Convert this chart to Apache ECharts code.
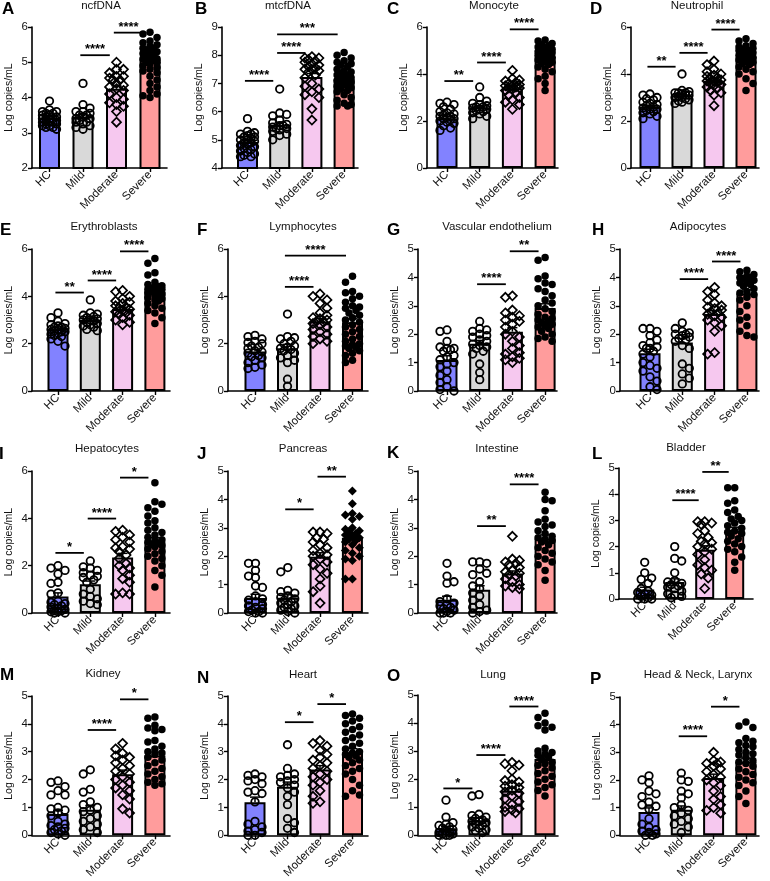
<!DOCTYPE html>
<html><head><meta charset="utf-8">
<script src="https://cdn.jsdelivr.net/npm/echarts@6/dist/echarts.min.js"></script>
<style>html,body{margin:0;padding:0;background:#fff}#c{width:770px;height:881px}</style>
</head><body><div id="c"></div>
<script>
// ---------------- DATA ----------------
const categories = ['HC', 'Mild', 'Moderate', 'Severe'];
const panelLetters = ['A','B','C','D','E','F','G','H','I','J','K','L','M','N','O','P'];
const panelTitles = ['ncfDNA','mtcfDNA','Monocyte','Neutrophil','Erythroblasts','Lymphocytes','Vascular endothelium','Adipocytes','Hepatocytes','Pancreas','Intestine','Bladder','Kidney','Heart','Lung','Head & Neck, Larynx'];
const yAxisName = 'Log copies/mL';
const yMinValues = [2,4,0,0,0,0,0,0,0,0,0,0,0,0,0,0];
const yMaxValues = [6,9,6,6,6,6,5,5,6,5,5,5,5,5,5,5];
const yStepValues = [1,1,2,2,2,2,1,1,2,1,1,1,1,1,1,1];

const ncfDNA = [
  [3.9,3.65,3.6,3.6,3.55,3.55,3.5,3.5,3.45,3.45,3.4,3.4,3.4,3.35,3.35,3.3,3.3,3.3,3.25,3.25,3.2,3.2,3.15,3.15,3.1],
  [4.4,3.8,3.7,3.6,3.6,3.55,3.5,3.5,3.45,3.4,3.4,3.35,3.3,3.3,3.25,3.2,3.15,3.1],
  [5.0,4.8,4.8,4.7,4.6,4.6,4.55,4.5,4.5,4.4,4.35,4.3,4.25,4.2,4.1,4.0,3.95,3.85,3.8,3.75,3.6,3.3],
  [5.85,5.8,5.7,5.6,5.55,5.5,5.45,5.4,5.4,5.35,5.3,5.3,5.25,5.2,5.2,5.15,5.1,5.1,5.05,5.0,5.0,4.95,4.9,4.85,4.8,4.75,4.7,4.6,4.5,4.4,4.3,4.2,4.1,4.05,4.0]
];
const mtcfDNA = [
  [5.75,5.3,5.25,5.2,5.2,5.15,5.1,5.1,5.05,5.0,5.0,4.95,4.9,4.9,4.85,4.8,4.75,4.7,4.65,4.6,4.55,4.5,4.45,4.4,4.4],
  [6.8,5.95,5.9,5.85,5.7,5.6,5.55,5.5,5.5,5.45,5.4,5.4,5.35,5.3,5.2,5.15,5.0],
  [7.95,7.9,7.9,7.85,7.8,7.75,7.7,7.65,7.6,7.55,7.5,7.5,7.45,7.4,7.3,7.2,7.0,6.9,6.8,6.7,6.6,6.5,6.1,5.7],
  [8.1,8.0,7.9,7.8,7.75,7.7,7.65,7.6,7.5,7.45,7.4,7.35,7.3,7.3,7.25,7.2,7.2,7.15,7.1,7.1,7.05,7.0,7.0,6.95,6.9,6.85,6.8,6.75,6.7,6.6,6.5,6.4,6.3,6.25,6.2,6.2]
];
const monocyte = [
  [2.8,2.75,2.7,2.6,2.5,2.4,2.35,2.3,2.25,2.2,2.2,2.15,2.1,2.1,2.05,2.0,1.95,1.9,1.8,1.7,1.6],
  [3.45,3.0,2.85,2.75,2.7,2.65,2.6,2.6,2.55,2.5,2.5,2.45,2.4,2.35,2.3,2.2,2.1],
  [4.15,3.8,3.75,3.7,3.65,3.6,3.55,3.5,3.5,3.45,3.4,3.4,3.35,3.3,3.2,3.1,3.0,2.9,2.8,2.7,2.5],
  [5.45,5.4,5.3,5.25,5.2,5.15,5.1,5.05,5.0,5.0,4.95,4.9,4.9,4.85,4.8,4.8,4.75,4.7,4.7,4.65,4.6,4.55,4.5,4.45,4.4,4.3,4.2,4.1,3.9,3.8,3.6,3.3]
];
const neutrophil = [
  [3.15,3.1,3.0,2.95,2.9,2.8,2.75,2.7,2.65,2.6,2.55,2.5,2.5,2.45,2.4,2.35,2.3,2.2,2.1],
  [4.0,3.3,3.25,3.2,3.2,3.2,3.15,3.1,3.1,3.05,3.0,3.0,2.95,2.9,2.85,2.8,2.75],
  [4.55,4.4,4.2,4.1,4.0,3.95,3.9,3.85,3.8,3.75,3.7,3.7,3.65,3.6,3.55,3.5,3.45,3.4,3.3,3.2,3.1,2.65],
  [5.5,5.4,5.3,5.2,5.15,5.1,5.05,5.0,5.0,4.95,4.9,4.85,4.8,4.8,4.75,4.7,4.7,4.65,4.6,4.55,4.5,4.45,4.4,4.3,4.2,4.1,4.0,3.8,3.6,3.3]
];
const erythroblasts = [
  [3.3,3.1,2.95,2.85,2.8,2.75,2.7,2.7,2.65,2.6,2.6,2.55,2.5,2.5,2.45,2.4,2.35,2.3,2.2,2.1,1.9],
  [3.85,3.3,3.25,3.2,3.15,3.1,3.05,3.0,3.0,2.95,2.9,2.85,2.8,2.75,2.7,2.6,2.55],
  [4.25,4.2,4.0,3.9,3.8,3.75,3.7,3.6,3.55,3.5,3.45,3.4,3.35,3.3,3.25,3.2,3.1,3.0,2.9,2.8],
  [5.6,5.4,5.0,4.9,4.6,4.5,4.45,4.4,4.4,4.35,4.3,4.3,4.25,4.2,4.2,4.15,4.1,4.05,4.0,3.95,3.9,3.85,3.8,3.7,3.6,3.5,3.4,3.3,3.1,2.85]
];
const lymphocytes = [
  [2.35,2.3,2.2,2.1,2.05,2.0,1.9,1.85,1.8,1.7,1.65,1.6,1.5,1.45,1.4,1.3,1.2,1.1,1.0,0.95],
  [3.25,2.3,2.25,2.2,2.1,2.0,1.9,1.85,1.8,1.75,1.7,1.6,1.5,1.4,1.3,1.2,0.5,0.2],
  [4.1,4.0,3.85,3.7,3.5,3.3,3.2,3.1,3.05,3.0,2.95,2.9,2.85,2.8,2.7,2.6,2.5,2.4,2.3,2.2,2.1,2.0],
  [4.85,4.6,4.2,4.15,4.0,3.9,3.75,3.6,3.55,3.5,3.4,3.3,3.2,3.1,3.0,2.9,2.8,2.7,2.6,2.5,2.4,2.3,2.2,2.1,2.0,1.95,1.9,1.85,1.8,1.7,1.6,1.5,1.3,1.2]
];
const vascularEndothelium = [
  [2.15,2.1,1.75,1.55,1.5,1.5,1.45,1.4,1.25,1.2,1.1,1.0,0.95,0.85,0.7,0.55,0.4,0.3,0.15,0.05,0.0],
  [2.45,2.2,2.15,2.1,2.0,1.95,1.9,1.8,1.75,1.65,1.6,1.55,1.5,1.4,1.3,0.95,0.65,0.4],
  [3.35,3.3,2.85,2.75,2.65,2.6,2.5,2.45,2.35,2.25,2.1,2.0,1.9,1.75,1.6,1.5,1.35,1.3,1.2,1.15,1.1,1.0],
  [4.7,4.6,4.05,3.95,3.8,3.75,3.6,3.5,3.35,3.2,3.1,3.0,2.9,2.8,2.7,2.6,2.55,2.5,2.45,2.4,2.35,2.3,2.25,2.2,2.1,2.0,1.9,1.85,1.75]
];
const adipocytes = [
  [2.2,2.2,2.1,1.95,1.8,1.7,1.6,1.55,1.5,1.5,1.4,1.3,1.2,1.0,0.9,0.8,0.7,0.5,0.35,0.15,0.05],
  [2.4,2.2,2.1,2.05,2.0,2.0,1.95,1.9,1.85,1.8,1.75,1.6,1.5,0.95,0.8,0.6,0.45,0.25],
  [3.65,3.5,3.4,3.2,3.1,3.0,2.95,2.9,2.85,2.8,2.75,2.7,2.65,2.6,2.5,2.4,2.3,2.1,1.35,1.3],
  [4.25,4.2,4.1,4.05,4.0,4.0,3.95,3.9,3.85,3.8,3.75,3.7,3.6,3.5,3.45,3.4,3.3,3.2,3.0,2.8,2.6,2.5,2.3,2.1,1.95,1.9]
];
const hepatocytes = [
  [2.0,1.9,1.8,1.65,1.3,1.25,0.85,0.8,0.5,0.45,0.4,0.35,0.3,0.25,0.2,0.15,0.1,0.1,0.05,0.05,0.0,0.0],
  [2.2,1.95,1.9,1.8,1.7,1.6,1.55,1.5,1.4,1.3,1.0,0.8,0.7,0.6,0.5,0.4,0.35],
  [3.5,3.45,3.3,3.2,3.1,3.0,2.8,2.75,2.7,2.6,2.45,2.3,2.1,2.0,1.9,1.8,1.6,1.45,1.3,0.85,0.8,0.8],
  [5.5,4.7,4.6,4.45,4.3,4.1,3.9,3.8,3.6,3.5,3.4,3.3,3.2,3.1,3.05,3.0,2.95,2.9,2.85,2.8,2.7,2.6,2.5,2.4,2.3,2.2,2.0,1.8,1.6,1.1]
];
const pancreas = [
  [1.75,1.75,1.5,1.3,1.25,0.95,0.9,0.6,0.5,0.45,0.4,0.3,0.25,0.2,0.15,0.1,0.05,0.05,0.0,0.0],
  [1.6,1.45,0.8,0.75,0.7,0.6,0.55,0.5,0.45,0.4,0.35,0.3,0.25,0.2,0.15,0.1,0.05,0.0],
  [2.85,2.85,2.8,2.65,2.6,2.5,2.4,2.3,2.2,2.1,2.05,2.0,1.9,1.8,1.7,1.55,1.4,1.2,0.95,0.75,0.35],
  [4.3,3.85,3.5,3.45,3.4,3.3,3.0,2.95,2.9,2.85,2.8,2.75,2.7,2.65,2.6,2.55,2.5,2.4,2.3,2.2,2.1,2.0,1.9,1.85,1.2,1.2]
];
const intestine = [
  [1.75,1.3,1.1,1.05,0.5,0.4,0.35,0.3,0.25,0.2,0.15,0.1,0.05,0.0,0.0,0.0],
  [1.8,1.8,1.75,1.55,1.4,1.35,1.1,0.95,0.85,0.7,0.6,0.45,0.3,0.2,0.1,0.05,0.0],
  [2.7,1.9,1.85,1.8,1.75,1.7,1.6,1.5,1.45,1.4,1.35,1.3,1.2,1.1,1.0,0.95,0.9,0.85],
  [4.25,4.0,3.95,3.6,3.3,3.2,3.1,3.05,2.9,2.8,2.7,2.65,2.6,2.55,2.5,2.4,2.3,2.2,2.1,2.0,1.9,1.8,1.7,1.5,1.15]
];
const bladder = [
  [1.4,1.0,0.8,0.75,0.6,0.4,0.3,0.25,0.2,0.15,0.1,0.05,0.0,0.0,0.0],
  [2.0,1.55,1.45,1.0,0.7,0.65,0.6,0.55,0.5,0.45,0.4,0.3,0.2,0.15,0.1,0.05],
  [2.95,2.95,2.9,2.85,2.6,2.5,2.35,2.2,2.15,2.1,2.0,1.9,1.8,1.7,1.5,1.3,1.2,1.1,0.95,0.8,0.4],
  [4.25,4.25,3.75,3.65,3.4,3.3,3.15,3.05,3.0,2.9,2.8,2.7,2.6,2.55,2.5,2.4,2.3,2.2,2.1,2.0,1.9,1.8,1.6,1.4,1.1]
];
const kidney = [
  [1.95,1.9,1.75,1.6,1.45,1.45,1.0,0.95,0.9,0.8,0.7,0.5,0.4,0.35,0.3,0.25,0.2,0.15,0.1,0.05,0.0],
  [2.35,2.2,1.65,1.55,1.2,1.1,1.0,0.9,0.85,0.7,0.6,0.5,0.4,0.3,0.2,0.1],
  [3.3,3.1,2.95,2.85,2.8,2.7,2.6,2.5,2.4,2.3,2.2,2.1,2.0,1.9,1.8,1.7,1.6,1.45,1.3,0.95,0.8],
  [4.25,4.2,3.95,3.85,3.8,3.75,3.4,3.35,3.2,3.1,3.0,2.95,2.9,2.8,2.7,2.6,2.5,2.4,2.3,2.2,2.1,2.0,1.9,1.85,1.8]
];
const heart = [
  [2.2,2.15,2.1,2.0,1.95,1.85,1.6,1.55,1.5,1.2,0.5,0.4,0.3,0.2,0.15,0.1,0.0,0.0],
  [3.25,2.4,2.2,2.15,2.1,2.0,1.95,1.9,1.8,1.7,1.55,1.4,1.1,0.6,0.45,0.25,0.1],
  [3.4,3.3,3.2,3.05,2.9,2.8,2.7,2.6,2.5,2.4,2.3,2.2,2.1,2.0,1.9,1.8,1.6,1.4,1.2,1.15],
  [4.35,4.3,4.2,4.1,4.0,3.9,3.8,3.7,3.6,3.5,3.4,3.3,3.2,3.1,3.0,2.95,2.9,2.85,2.8,2.7,2.6,2.5,2.4,2.3,2.2,2.0,1.8,1.6,1.45,1.4]
];
const lung = [
  [1.25,0.65,0.45,0.4,0.35,0.3,0.25,0.2,0.15,0.1,0.1,0.05,0.05,0.0,0.0,0.0],
  [1.45,1.4,0.75,0.7,0.65,0.6,0.55,0.5,0.5,0.45,0.4,0.35,0.3,0.25,0.2,0.15,0.1],
  [2.6,2.55,2.5,2.3,2.0,1.95,1.9,1.8,1.75,1.7,1.6,1.55,1.5,1.4,1.3,1.2,1.1,1.0,0.95,0.9,0.85,0.8],
  [4.35,4.2,4.0,3.9,3.85,3.75,3.1,3.0,2.95,2.9,2.85,2.8,2.7,2.6,2.55,2.5,2.4,2.3,2.2,2.1,2.0,1.9,1.8,1.7,1.6,1.4]
];
const headNeckLarynx = [
  [2.15,2.0,1.9,1.6,1.5,1.4,1.2,1.1,1.05,0.95,0.6,0.4,0.3,0.2,0.15,0.1,0.05,0.0,0.0],
  [2.25,2.0,1.95,1.6,1.5,1.35,1.1,1.0,0.9,0.8,0.7,0.6,0.5,0.4,0.3,0.1],
  [3.0,2.7,2.65,2.6,2.6,2.5,2.4,2.3,2.2,2.1,2.0,1.9,1.8,1.6,1.4,1.3,1.1,1.0,0.9,0.8],
  [4.1,3.95,3.9,3.5,3.4,3.35,3.25,3.2,3.1,3.0,2.95,2.9,2.8,2.7,2.65,2.6,2.5,2.4,2.3,2.2,2.1,2.0,1.9,1.8,1.6,1.4,1.15]
];

const barMeans = [
  [3.42,3.46,4.25,5.1],[4.92,5.53,7.23,7.15],[2.12,2.58,3.39,4.73],[2.61,3.1,3.7,4.73],
  [2.63,3.0,3.46,4.2],[1.67,1.81,2.94,2.9],[1.09,1.66,2.09,2.92],[1.33,1.71,2.71,3.43],
  [0.7,1.21,2.34,3.01],[0.53,0.54,1.98,2.65],[0.47,0.82,1.39,2.62],[0.36,0.65,1.88,2.61],
  [0.76,0.92,2.19,2.86],[1.19,1.74,2.36,2.98],[0.25,0.54,1.59,2.72],[0.84,0.92,2.07,2.66]
];
const barSEM = [
  [0.04,0.07,0.08,0.07],[0.07,0.09,0.12,0.08],[0.07,0.07,0.08,0.08],[0.06,0.07,0.09,0.08],
  [0.07,0.07,0.08,0.11],[0.09,0.16,0.12,0.15],[0.15,0.12,0.14,0.15],[0.14,0.14,0.12,0.13],
  [0.15,0.14,0.18,0.17],[0.13,0.1,0.14,0.13],[0.12,0.14,0.09,0.13],[0.09,0.12,0.15,0.13],
  [0.14,0.15,0.15,0.13],[0.18,0.17,0.14,0.13],[0.07,0.08,0.1,0.13],[0.15,0.14,0.14,0.13]
];
// [group from, group to, height, label]
const sigBrackets = [
  [[1,2,5.2,'****'],[2,3,5.84,'****']],
  [[0,1,7.09,'****'],[1,2,8.08,'****'],[1,3,8.74,'***']],
  [[0,1,3.7,'**'],[1,2,4.49,'****'],[2,3,5.9,'****']],
  [[0,1,4.31,'**'],[1,2,4.9,'****'],[2,3,5.89,'****']],
  [[0,1,4.16,'**'],[1,2,4.67,'****'],[2,3,5.9,'****']],
  [[1,2,4.4,'****'],[1,3,5.72,'****']],
  [[1,2,3.76,'****'],[2,3,4.92,'**']],
  [[1,2,3.94,'****'],[2,3,4.56,'****']],
  [[0,1,2.54,'*'],[1,2,3.99,'****'],[2,3,5.72,'*']],
  [[1,2,3.65,'*'],[2,3,4.8,'**']],
  [[1,2,3.06,'**'],[2,3,4.53,'****']],
  [[1,2,3.77,'****'],[2,3,4.85,'**']],
  [[1,2,3.78,'****'],[2,3,4.88,'*']],
  [[1,2,4.06,'*'],[2,3,4.71,'*']],
  [[0,1,1.67,'*'],[1,2,2.86,'****'],[2,3,4.59,'****']],
  [[1,2,3.58,'****'],[2,3,4.65,'*']]
];
const panelPoints = [ncfDNA, mtcfDNA, monocyte, neutrophil, erythroblasts, lymphocytes, vascularEndothelium, adipocytes,
  hepatocytes, pancreas, intestine, bladder, kidney, heart, lung, headNeckLarynx];

// ---------------- LAYOUT / STYLE ----------------
const layout = [
  {ax:32, c0:49.5, band:33.5, end:167, top:27, bottom:168, bw:21, tx:101, ty:0, lx:2, ly:1},
  {ax:222, c0:247.5, band:32.2, end:358, top:27, bottom:168, bw:21, tx:288, ty:0, lx:195, ly:1},
  {ax:427, c0:447, band:32.7, end:558, top:27, bottom:168, bw:21, tx:494, ty:0, lx:387, ly:1},
  {ax:631, c0:650, band:32, end:759, top:27, bottom:168, bw:21, tx:697, ty:0, lx:590, ly:1},
  {ax:32, c0:58, band:32.3, end:170, top:249, bottom:391, bw:21, tx:104, ty:221, lx:0, ly:222},
  {ax:228, c0:255, band:32.5, end:368, top:249, bottom:391, bw:21, tx:303, ty:221, lx:197, ly:222},
  {ax:418, c0:447, band:32.7, end:557, top:249, bottom:391, bw:21, tx:497, ty:221, lx:387, ly:222},
  {ax:620, c0:650, band:32.3, end:759, top:249, bottom:391, bw:21, tx:698, ty:221, lx:592, ly:222},
  {ax:32, c0:58, band:32.3, end:170, top:471, bottom:613, bw:21, tx:107, ty:443, lx:-1, ly:446},
  {ax:228, c0:255.5, band:32.3, end:368, top:471, bottom:613, bw:21, tx:303, ty:443, lx:197, ly:446},
  {ax:418, c0:447, band:32.7, end:557, top:471, bottom:613, bw:21, tx:497, ty:443, lx:387, ly:445},
  {ax:619, c0:644.7, band:30, end:753, top:468, bottom:599, bw:19, tx:686, ty:442, lx:592, ly:446},
  {ax:32, c0:58, band:32.3, end:170, top:696, bottom:838, bw:21, tx:103, ty:668, lx:0, ly:667},
  {ax:228, c0:255, band:32.5, end:368, top:696, bottom:838, bw:21, tx:303, ty:669, lx:197, ly:670},
  {ax:418, c0:446, band:33, end:558, top:695, bottom:838, bw:21, tx:493, ty:669, lx:387, ly:668},
  {ax:620, c0:649, band:32.3, end:759, top:697, bottom:838, bw:21, tx:698, ty:669, lx:590, ly:671}
];
const FONT = '"Liberation Sans", Arial, Helvetica, sans-serif';
const barColors = ['#8282ff', '#d9d9d9', '#f6c8ef', '#ff9c9c'];
const HOLLOW = 'rgba(0,0,0,0)';
function groupStyle(p, g) {
  if (g === 0 || g === 1) return {symbol:'circle', size:7.5, color:HOLLOW, bw:1.8};
  if (g === 2) return {symbol:'diamond', size:9, color:HOLLOW, bw:1.7};
  if (p === 9) return {symbol:'diamond', size:9, color:'#000', bw:0};
  return {symbol:'circle', size:7.5, color:'#000', bw:0};
}

// deterministic beeswarm (pixel space) -> offsets in category units
function swarm(vals, pxPerUnit, band, maxOff, d) {
  const order = vals.map((v, i) => i).sort((a, b) => vals[b] - vals[a]);
  const placed = [];
  const offs = new Array(vals.length).fill(0);
  const step = d * 0.5;
  order.forEach((i, n) => {
    const y = vals[i] * pxPerUnit;
    const cands = [0];
    for (let s = step; s <= maxOff + 1e-6; s += step) {
      if (n % 2) cands.push(-s, s); else cands.push(s, -s);
    }
    let best = 0, bestScore = -1;
    for (const c of cands) {
      let md = Infinity;
      for (const p of placed) {
        const dist = Math.hypot(c - p[0], y - p[1]);
        if (dist < md) md = dist;
      }
      if (md >= d) { best = c; bestScore = Infinity; break; }
      if (md > bestScore) { bestScore = md; best = c; }
    }
    placed.push([best, y]);
    offs[i] = best / band;
  });
  return offs;
}

const option = {
  animation: false,
  backgroundColor: '#fff',
  textStyle: {fontFamily: FONT},
  title: [], grid: [], xAxis: [], yAxis: [], series: []
};

layout.forEach((L, p) => {
  option.title.push({text: panelTitles[p], left: L.tx, top: L.ty, padding: 0, textAlign: 'center',
    textStyle: {fontFamily: FONT, fontSize: 11.5, fontWeight: 'normal', color: '#111'}});
  option.title.push({text: panelLetters[p], left: L.lx, top: L.ly, padding: 0,
    textStyle: {fontFamily: FONT, fontSize: 17, fontWeight: 'bold', color: '#000'}});
  option.grid.push({left: L.ax, top: L.top, width: L.end - L.ax, height: L.bottom - L.top, containLabel: false});
  const xmin = -(L.c0 - L.ax) / L.band;
  const xmax = xmin + (L.end - L.ax) / L.band;
  option.xAxis.push({
    type: 'value', gridIndex: p, min: xmin, max: xmax,
    splitLine: {show: false},
    axisLine: {show: true, onZero: false, lineStyle: {color: '#000', width: 1.6}},
    axisTick: {show: true, customValues: [0,1,2,3], length: 4, lineStyle: {color: '#000', width: 1.4}},
    axisLabel: {show: true, customValues: [0,1,2,3], rotate: 45, margin: 5, fontSize: 11.5, color: '#111', fontFamily: FONT,
      formatter: v => categories[Math.round(v)] || ''}
  });
  option.yAxis.push({
    type: 'value', gridIndex: p, min: yMinValues[p], max: yMaxValues[p], interval: yStepValues[p],
    splitLine: {show: false},
    axisLine: {show: true, onZero: false, lineStyle: {color: '#000', width: 1.6}},
    axisTick: {show: true, length: 4, lineStyle: {color: '#000', width: 1.4}},
    axisLabel: {fontSize: 11.5, color: '#111', margin: 4, fontFamily: FONT},
    name: yAxisName, nameLocation: 'middle', nameGap: 17,
    nameTextStyle: {fontSize: 10.5, color: '#111', fontFamily: FONT}
  });
  option.series.push({
    type: 'bar', xAxisIndex: p, yAxisIndex: p, barWidth: L.bw, clip: true, silent: true, z: 2,
    data: barMeans[p].map((m, g) => ({value: [g, m], itemStyle: {color: barColors[g]}})),
    itemStyle: {borderColor: '#000', borderWidth: 2}
  });
  option.series.push({
    type: 'custom', xAxisIndex: p, yAxisIndex: p, z: 3, silent: true,
    encode: {x: 0, y: [1, 2]},
    data: barMeans[p].map((m, g) => [g, m, barSEM[p][g]]),
    renderItem: (params, api) => {
      const x = api.value(0), m = api.value(1), s = api.value(2);
      const a = api.coord([x, m]), b = api.coord([x, m + s]);
      return {type: 'group', children: [
        {type: 'line', shape: {x1: a[0], y1: a[1], x2: b[0], y2: b[1]}, style: {stroke: '#000', lineWidth: 1.5}},
        {type: 'line', shape: {x1: b[0] - 5, y1: b[1], x2: b[0] + 5, y2: b[1]}, style: {stroke: '#000', lineWidth: 1.5}}
      ]};
    }
  });
  const pxPerUnit = (L.bottom - L.top) / (yMaxValues[p] - yMinValues[p]);
  panelPoints[p].forEach((vals, g) => {
    const st = groupStyle(p, g);
    const offs = swarm(vals, pxPerUnit, L.band, L.bw === 21 ? 9.5 : 8.5, 7);
    option.series.push({
      type: 'scatter', xAxisIndex: p, yAxisIndex: p, clip: false, silent: true, z: 4,
      symbol: st.symbol, symbolSize: st.size,
      itemStyle: {color: st.color, borderColor: '#000', borderWidth: st.bw, opacity: 1},
      data: vals.map((v, k) => [g + offs[k], v])
    });
  });
  const sig = sigBrackets[p];
  option.series.push({
    type: 'custom', xAxisIndex: p, yAxisIndex: p, z: 6, silent: true, clip: false,
    encode: {x: [0, 1], y: 2},
    data: sig.map(s => [s[0] - 0.08, s[1] - 0.2, s[2]]),
    renderItem: (params, api) => {
      const a = api.coord([api.value(0), api.value(2)]);
      const b = api.coord([api.value(1), api.value(2)]);
      const txt = sig[params.dataIndex][3];
      return {type: 'group', children: [
        {type: 'line', shape: {x1: a[0], y1: a[1], x2: b[0], y2: b[1]}, style: {stroke: '#000', lineWidth: 1.8}},
        {type: 'text', style: {text: txt, x: (a[0] + b[0]) / 2, y: a[1] + 1,
          align: 'center', verticalAlign: 'bottom', textAlign: 'center', textVerticalAlign: 'bottom',
          font: 'bold 13px ' + FONT, fill: '#000'}}
      ]};
    }
  });
});

const chart = echarts.init(document.getElementById('c'), null, {renderer: 'canvas'});
chart.setOption(option);
</script></body></html>
